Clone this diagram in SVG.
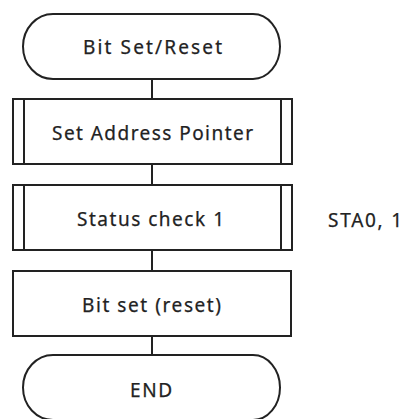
<svg xmlns="http://www.w3.org/2000/svg" width="405" height="419" viewBox="0 0 405 419">
<style>
.s{fill:#fff;stroke:#222;stroke-width:2}
.l{fill:none;stroke:#222;stroke-width:2}
text{font-family:"Noto Sans","DejaVu Sans",sans-serif;font-size:19px;fill:#222;stroke:#222;stroke-width:0.25}
.c{text-anchor:middle}
</style>
<rect width="405" height="419" fill="#fff"/>
<g id="connectors">
<line class="l" x1="152" y1="79" x2="152" y2="99"/>
<line class="l" x1="152" y1="164" x2="152" y2="185"/>
<line class="l" x1="152" y1="250" x2="152" y2="271"/>
<line class="l" x1="152" y1="336" x2="152" y2="355"/>
</g>
<g id="start">
<path class="s" d="M53,14 H253 A27,32.5 0 0 1 253,79 H53 A30,32.5 0 0 1 53,14 Z"/>
<text class="c" x="152.5" y="54" textLength="139" lengthAdjust="spacing">Bit Set/Reset</text>
</g>
<g id="setAddress">
<rect class="s" x="13" y="99" width="279" height="65"/>
<line class="l" x1="24" y1="99" x2="24" y2="164"/>
<line class="l" x1="281" y1="99" x2="281" y2="164"/>
<text class="c" x="152.5" y="140" textLength="201" lengthAdjust="spacing">Set Address Pointer</text>
</g>
<g id="statusCheck">
<rect class="s" x="13" y="185" width="279" height="65"/>
<line class="l" x1="24" y1="185" x2="24" y2="250"/>
<line class="l" x1="281" y1="185" x2="281" y2="250"/>
<text class="c" x="150.5" y="226" textLength="147" lengthAdjust="spacing">Status check 1</text>
</g>
<g id="note">
<text x="328" y="227" textLength="74" lengthAdjust="spacing">STA0, 1</text>
</g>
<g id="bitSet">
<rect class="s" x="13" y="271" width="278" height="65"/>
<text class="c" x="151.5" y="312" textLength="139" lengthAdjust="spacing">Bit set (reset)</text>
</g>
<g id="end">
<path class="s" d="M53,355 H253 A27,32.5 0 0 1 253,420 H53 A30,32.5 0 0 1 53,355 Z"/>
<text class="c" x="151" y="397" textLength="42" lengthAdjust="spacing">END</text>
</g>
</svg>
